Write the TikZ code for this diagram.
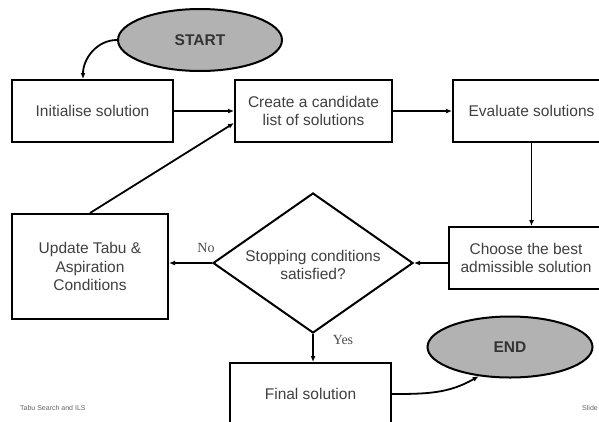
\documentclass[tikz,border=0pt]{standalone}
\usepackage{fontspec}
\setmainfont{Liberation Sans}
\newfontfamily\labserif{Liberation Serif}
\usetikzlibrary{shapes.geometric,arrows.meta}
\begin{document}
\begin{tikzpicture}[x=1pt,y=-1pt,
 box/.style={draw, line width=2pt, rectangle, inner sep=0pt, align=center, text=black!75, font=\fontsize{15.5}{18.5}\selectfont},
 term/.style={draw, line width=2pt, ellipse, fill=gray!60, inner sep=0pt, text=black!80, font=\fontsize{15.5}{18.5}\selectfont\bfseries},
 decision/.style={draw, line width=2pt, diamond, inner sep=0pt},
 conn/.style={line width=1.8pt, -{Latex[length=6pt,width=5pt]}},
 lab/.style={font=\labserif\fontsize{14}{16}\selectfont, text=black!70},
 foot/.style={font=\fontsize{7}{8}\selectfont, text=black!60, inner sep=0pt}]
\useasboundingbox (0,0) rectangle (599,421);
\fill[white] (0,0) rectangle (599,421);
\clip (0,0) rectangle (599,421);

\node[term, minimum width=164pt, minimum height=62pt] (start) at (200,40) {START};
\node[box, minimum width=161pt, minimum height=62pt] (init) at (92.5,111) {Initialise solution};
\node[box, minimum width=157pt, minimum height=62pt] (create) at (313.5,111) {Create a candidate\\list of solutions};
\node[box, minimum width=157pt, minimum height=62pt] (eval) at (531.5,111) {Evaluate solutions};
\node[box, minimum width=154pt, minimum height=62pt] (choose) at (526,258) {Choose the best\\admissible solution};
\node[decision, minimum width=200pt, minimum height=140pt] (dia) at (313,263) {};
\node[box, draw=none, inner sep=0pt] (diatext) at (313,265) {Stopping conditions\\satisfied?};
\node[box, minimum width=156pt, minimum height=105pt] (update) at (90,266.5) {Update Tabu \&\\Aspiration\\Conditions};
\node[box, minimum width=161pt, minimum height=62pt] (final) at (310.5,394) {Final solution};
\node[term, minimum width=165pt, minimum height=61pt] (end) at (510,347) {END};

\node[lab] (no) at (206,248) {No};
\node[lab] (yes) at (343,340) {Yes};

\node[foot, anchor=west] (footl) at (20,408) {Tabu Search and ILS};
\node[foot, anchor=east] (footr) at (598,408) {Slide};

\draw[conn] (start.west) to[out=180,in=90] ([xshift=-9.5pt]init.north);
\draw[conn] (init.east) -- (create.west);
\draw[conn] (create.east) -- (eval.east -| eval.west);
\draw[conn] (eval.south) -- (eval.south |- choose.north);
\draw[conn] (choose.west |- dia.east) -- (dia.east);
\draw[conn] (dia.west) -- (update.east |- dia.west);
\draw[conn] (update.north) -- ([yshift=-12pt]create.west);
\draw[conn] (dia.south) -- (dia.south |- final.north);
\draw[conn] (final.east) to[out=0,in=-150] (end.-137);
\end{tikzpicture}
\end{document}
